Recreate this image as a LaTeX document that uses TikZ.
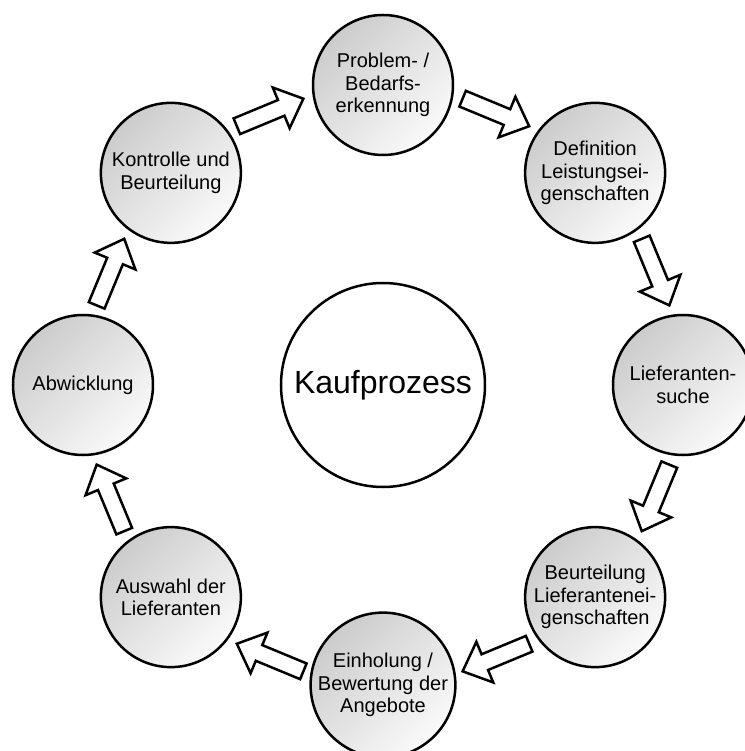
\documentclass[tikz,border=0pt]{standalone}
\usepackage{fontspec}
\setmainfont{Liberation Sans}
\usetikzlibrary{calc}
\tikzset{
  stage/.style={circle, draw=black, line width=2.5pt, minimum size=140pt, inner sep=0pt,
    top color=black!20, bottom color=black!2, shading angle=45,
    align=center, text=black, font=\fontsize{20}{22.5}\selectfont},
  hub/.style={circle, draw=black, line width=2.5pt, minimum size=204pt, fill=white,
    font=\fontsize{32}{36}\selectfont},
  blockarrow/.pic={\draw[line width=2.5pt, fill=white, line join=miter]
    (-36,-8.5) -- (12,-8.5) -- (12,-22) -- (36,0) -- (12,22) -- (12,8.5) -- (-36,8.5) -- cycle;}
}
\begin{document}
\begin{tikzpicture}[x=1pt,y=1pt]
\fill[white] (-383,-366) rectangle (361,385);
\useasboundingbox (-383,-366) rectangle (361,385);
\node[hub] (kauf) at (0,0) {Kaufprozess};
\node[stage] (pro) at (90:300) {Problem- /\\Bedarfs-\\erkennung};
\node[stage] (def) at (45:300) {Definition\\Leistungsei-\\genschaften};
\node[stage] (lie) at (0:300) {Lieferanten-\\suche};
\node[stage] (beu) at (-45:300) {Beurteilung\\Lieferantenei-\\genschaften};
\node[stage] (ein) at (-90:300) {Einholung /\\Bewertung der\\Angebote};
\node[stage] (aus) at (-135:300) {Auswahl der\\Lieferanten};
\node[stage] (abw) at (180:300) {Abwicklung};
\node[stage] (kon) at (135:300) {Kontrolle und\\Beurteilung};
\coordinate (a1) at ($(kauf)+(112.5:295)$);
\coordinate (a2) at ($(kauf)+(67.5:295)$);
\coordinate (a3) at ($(kauf)+(22.5:295)$);
\coordinate (a4) at ($(kauf)+(-22.5:295)$);
\coordinate (a5) at ($(kauf)+(-67.5:295)$);
\coordinate (a6) at ($(kauf)+(-112.5:295)$);
\coordinate (a7) at ($(kauf)+(-157.5:295)$);
\coordinate (a8) at ($(kauf)+(157.5:295)$);
\pic[rotate=22.5] at (a1) {blockarrow};
\pic[rotate=-22.5] at (a2) {blockarrow};
\pic[rotate=-67.5] at (a3) {blockarrow};
\pic[rotate=-112.5] at (a4) {blockarrow};
\pic[rotate=-157.5] at (a5) {blockarrow};
\pic[rotate=157.5] at (a6) {blockarrow};
\pic[rotate=112.5] at (a7) {blockarrow};
\pic[rotate=67.5] at (a8) {blockarrow};
\end{tikzpicture}
\end{document}
